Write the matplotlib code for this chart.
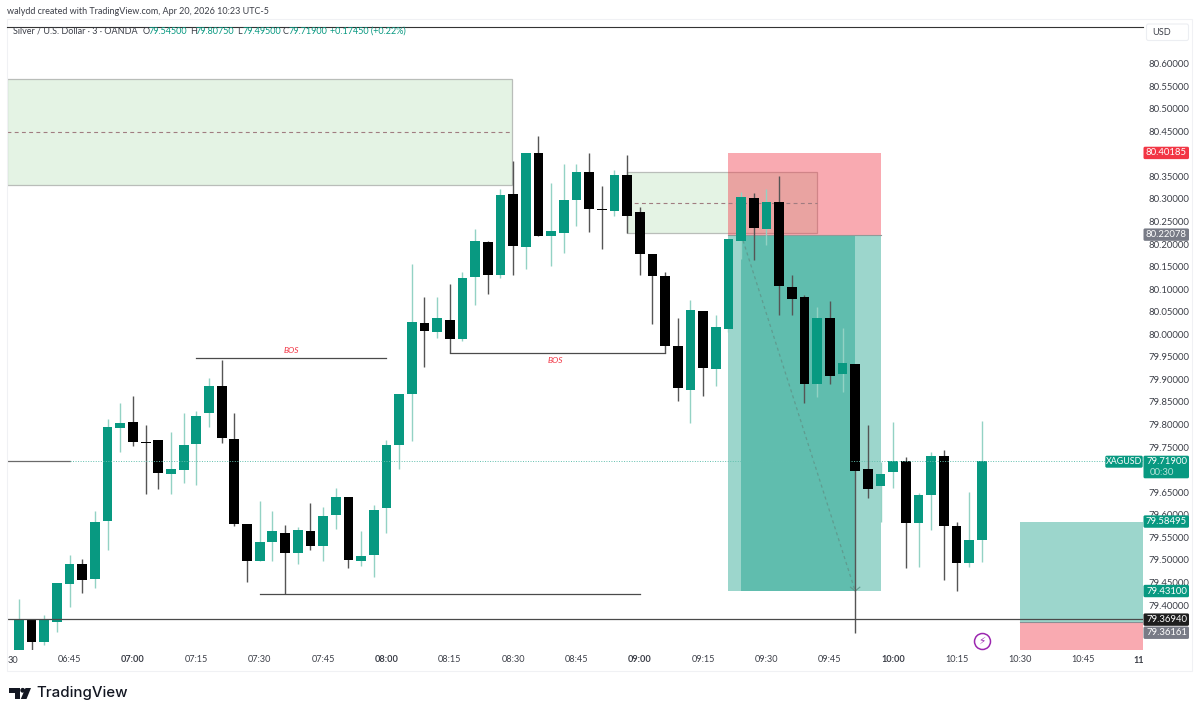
import matplotlib
matplotlib.use("Agg")
import matplotlib.pyplot as plt
from matplotlib.patches import FancyBboxPatch, Polygon, Circle, Rectangle
from matplotlib.transforms import IdentityTransform

plt.rcParams['font.family'] = ['Lato', 'DejaVu Sans']

W, H = 1200, 716

# 3 minute candles, first one is 06:33
opens = [79.300, 79.370, 79.317, 79.363, 79.447, 79.491, 79.458, 79.586, 79.793, 79.806,
         79.761, 79.766, 79.690, 79.700, 79.757, 79.825, 79.885, 79.767, 79.580, 79.498,
         79.540, 79.560, 79.515, 79.565, 79.531, 79.599, 79.639, 79.498, 79.511, 79.614,
         79.755, 79.868, 80.024, 80.004, 80.032, 79.990, 80.126, 80.205, 80.131, 80.310,
         80.194, 80.401, 80.218, 80.225, 80.298, 80.360, 80.277, 80.273, 80.353, 80.271,
         80.177, 80.128, 79.975, 79.877, 80.052, 79.924, 80.011, 80.207, 80.301, 80.233,
         80.292, 80.105, 80.082, 79.890, 80.036, 79.911, 79.933, 79.702, 79.664, 79.694,
         79.719, 79.582, 79.643, 79.731, 79.574, 79.492, 79.545]
highs = [79.413, 79.370, 79.378, 79.448, 79.511, 79.503, 79.609, 79.812, 79.848, 79.863,
         79.800, 79.766, 79.783, 79.825, 79.829, 79.902, 79.943, 79.825, 79.580, 79.631,
         79.608, 79.577, 79.572, 79.626, 79.618, 79.659, 79.639, 79.563, 79.622, 79.766,
         79.867, 80.155, 80.082, 80.083, 80.111, 80.138, 80.233, 80.207, 80.323, 80.383,
         80.401, 80.440, 80.335, 80.377, 80.377, 80.401, 80.329, 80.364, 80.398, 80.283,
         80.177, 80.139, 80.037, 80.075, 80.052, 80.043, 80.210, 80.316, 80.314, 80.321,
         80.351, 80.131, 80.086, 80.061, 80.073, 80.014, 79.933, 79.800, 79.718, 79.806,
         79.727, 79.649, 79.740, 79.744, 79.584, 79.651, 79.8075]
lows = [79.300, 79.300, 79.311, 79.340, 79.396, 79.427, 79.438, 79.523, 79.740, 79.752,
        79.645, 79.656, 79.647, 79.670, 79.667, 79.795, 79.758, 79.574, 79.452, 79.498,
        79.498, 79.424, 79.491, 79.523, 79.497, 79.569, 79.481, 79.487, 79.462, 79.559,
        79.701, 79.764, 79.928, 79.992, 79.958, 79.986, 80.065, 80.089, 80.125, 80.131,
        80.144, 80.218, 80.151, 80.179, 80.240, 80.227, 80.189, 80.262, 80.224, 80.131,
        80.023, 79.958, 79.853, 79.803, 79.863, 79.885, 80.006, 80.166, 80.165, 80.197,
        80.043, 80.042, 79.847, 79.862, 79.890, 79.873, 79.339, 79.637, 79.585, 79.660,
        79.482, 79.484, 79.566, 79.456, 79.430, 79.485, 79.495]
closes = [79.370, 79.317, 79.368, 79.448, 79.491, 79.455, 79.585, 79.794, 79.804, 79.761,
          79.758, 79.693, 79.701, 79.754, 79.819, 79.885, 79.769, 79.579, 79.498, 79.540,
          79.563, 79.515, 79.566, 79.531, 79.598, 79.639, 79.500, 79.508, 79.611, 79.755,
          79.867, 80.027, 80.007, 80.035, 79.989, 80.125, 80.207, 80.131, 80.309, 80.196,
          80.401, 80.218, 80.228, 80.298, 80.360, 80.277, 80.275, 80.353, 80.262, 80.177,
          80.129, 79.974, 79.880, 80.053, 79.925, 80.015, 80.210, 80.305, 80.236, 80.292,
          80.106, 80.079, 79.890, 80.036, 79.908, 79.936, 79.698, 79.656, 79.690, 79.719,
          79.582, 79.644, 79.731, 79.574, 79.492, 79.543, 79.719]

# minutes after 06:30
tick_minutes = [15, 30, 45, 60, 75, 90, 105, 120, 135, 150, 165, 180, 195, 210, 225, 240, 255]
tick_labels = ["06:45", "07:00", "07:15", "07:30", "07:45", "08:00", "08:15", "08:30", "08:45",
               "09:00", "09:15", "09:30", "09:45", "10:00", "10:15", "10:30", "10:45"]
bold_labels = ["07:00", "08:00", "09:00", "10:00"]
price_ticks = [79.40, 79.45, 79.50, 79.55, 79.60, 79.65, 79.75, 79.80, 79.85, 79.90,
               79.95, 80.00, 80.05, 80.10, 80.15, 80.20, 80.25, 80.30, 80.35, 80.45,
               80.50, 80.55, 80.60]

GREEN = "#089981"
GREEN_WICK = "#93d2c4"
BLACK_WICK = "#555555"
LINE = "#4a4a4a"
TEXT = "#3c3f48"
RED = "#f23645"
GREY_TAG = "#787b86"
LABEL_SIZE = 6.8

fig = plt.figure(figsize=(W / 100, H / 100), dpi=100, facecolor="white")
ax = fig.add_axes([7 / W, (H - 650) / H, 1136 / W, 623 / H])
ax.set_xlim(0.17, 269.15)
ax.set_ylim(79.3003, 80.6809)
for s in ax.spines.values():
    s.set_visible(False)


def px_text(x, y, s, **kw):
    kw.setdefault("va", "center")
    kw.setdefault("color", TEXT)
    return fig.text(x / W, 1 - y / H, s, **kw)


# supply zones
for x0, x1, lo, hi, mid in [(0.17, 119.8, 80.3307, 80.5657, 80.4493),
                            (147, 192, 80.2250, 80.3589, 80.2915)]:
    ax.add_patch(Rectangle((x0, lo), x1 - x0, hi - lo, fc="#4caf50", alpha=0.15, ec="none", zorder=1))
    ax.add_patch(Rectangle((x0, lo), x1 - x0, hi - lo, fc="none", ec="#b9bdb9", lw=0.9, zorder=1.1))
    ax.plot([x0, x1], [mid, mid], color="#a07c80", lw=0.8, ls=(0, (3.5, 3)), zorder=3.5)

# short position tool
ax.axhspan(80.22078, 80.40185, xmin=(171 - 0.17) / 268.98, xmax=(207 - 0.17) / 268.98,
           fc=RED, alpha=0.42, ec="none", zorder=1.2)
ax.axhspan(79.43100, 80.22078, xmin=(171 - 0.17) / 268.98, xmax=(207 - 0.17) / 268.98,
           fc=GREEN, alpha=0.4, ec="none", zorder=1.2)
ax.axhspan(79.43100, 80.22078, xmin=(174 - 0.17) / 268.98, xmax=(201 - 0.17) / 268.98,
           fc=GREEN, alpha=0.4, ec="none", zorder=1.3)
ax.plot([171, 207], [80.22078, 80.22078], color="#8f9a98", lw=0.8, zorder=1.4)
ax.plot([174, 201], [80.22078, 79.43100], color="#5f9c90", lw=0.9, ls=(0, (2.5, 2.5)), zorder=1.5)
ax.plot([199.9, 201, 202.1], [79.4395, 79.43100, 79.4395], color="#5f9c90", lw=0.8, zorder=1.5)

# second position tool, runs off the right edge
ax.add_patch(Rectangle((240, 79.36161), 30, 79.58495 - 79.36161, fc=GREEN, alpha=0.4, ec="none", zorder=1.2))
ax.add_patch(Rectangle((240, 79.3003), 30, 79.36161 - 79.3003, fc=RED, alpha=0.42, ec="none", zorder=1.2))
ax.plot([240, 270], [79.36161, 79.36161], color="#8a8f94", lw=0.8, zorder=1.4)

# candles
for i in range(len(opens)):
    m = (i + 1) * 3
    up = closes[i] >= opens[i]
    ax.vlines(m, lows[i], highs[i], color=GREEN_WICK if up else BLACK_WICK, lw=1.0, zorder=4)
    bottom = min(opens[i], closes[i])
    height = max(abs(closes[i] - opens[i]), 0.003)
    ax.bar(m, height, bottom=bottom, width=2.3, color=GREEN if up else "black", lw=0, zorder=5)

# horizontal levels
ax.plot([0.17, 269.15], [79.3694, 79.3694], color=LINE, lw=0.9, zorder=6)
ax.plot([0.17, 15], [79.719, 79.719], color="#6a6a6a", lw=0.9, zorder=6)
ax.plot([15, 269.15], [79.719, 79.719], color="#62bfae", lw=0.7, ls=(0, (1, 1.6)), zorder=6)
ax.plot([60, 150], [79.4244, 79.4244], color=LINE, lw=0.9, zorder=6)
ax.plot([45, 90], [79.9467, 79.9467], color=LINE, lw=0.9, zorder=6)
ax.plot([105, 156], [79.9585, 79.9585], color=LINE, lw=0.9, zorder=6)
ax.text(67.5, 79.9632, "BOS", color=RED, fontsize=6, style="italic", ha="center", va="center", zorder=6)
ax.text(130, 79.9425, "BOS", color=RED, fontsize=6, style="italic", ha="center", va="center", zorder=6)

# marker under the last candle
ax.plot([231], [79.3209], marker="o", ms=11.5, mfc="white", mec="#9c27b0", mew=1.1, zorder=7)
ax.text(231, 79.3209, "\u26a1", color="#9c27b0", fontsize=7.5, ha="center", va="center",
        family="DejaVu Sans", zorder=8)

# axes
ax.yaxis.tick_right()
ax.set_yticks(price_ticks)
ax.set_yticklabels([f"{p:.5f}" for p in price_ticks], fontsize=LABEL_SIZE, color=TEXT)
ax.set_xticks(tick_minutes)
ax.set_xticklabels(tick_labels, fontsize=6.6, color=TEXT)
ax.tick_params(axis="both", length=0)
ax.tick_params(axis="y", pad=4.3)
ax.tick_params(axis="x", pad=3.5)
for lab in ax.get_xticklabels():
    if lab.get_text() in bold_labels:
        lab.set_fontweight("bold")
px_text(13, 660.5, "30", ha="center", fontsize=6.6)
px_text(1139, 660.5, "11", ha="center", fontsize=6.6, fontweight="bold")

# top rule and outer frame
fig.add_artist(plt.Line2D([7 / W, 1143 / W], [1 - 27 / H, 1 - 27 / H], color="#333333", lw=0.8))
fig.add_artist(Rectangle((7 / W, 1 - 671 / H), 1185 / W, 652 / H, transform=fig.transFigure,
                         fc="none", ec="#f0f1f4", lw=0.8))


def tag(x0, x1, y0, y1, color):
    box = FancyBboxPatch((x0 + 1, H - y1 + 1), x1 - x0 - 2, y1 - y0 - 2, boxstyle="round,pad=1,rounding_size=1.5",
                         fc=color, ec="none", transform=IdentityTransform(), zorder=2)
    fig.add_artist(box)


def price_tag(price, s, color, shift=0.0):
    y = H - ax.transData.transform((0, price))[1] + shift
    tag(1143.5, 1189, y - 6.2, y + 6.2, color)
    px_text(1166.5, y, s, color="white", ha="center", fontsize=LABEL_SIZE)


price_tag(80.40185, "80.40185", RED)
price_tag(80.22078, "80.22078", GREY_TAG)
price_tag(79.58495, "79.58495", GREEN)
price_tag(79.43100, "79.43100", GREEN)
# the two lowest tags would collide, so they stack
price_tag(79.36940, "79.36940", "#1e1e1e", shift=0.8)
price_tag(79.36161, "79.36161", GREY_TAG, shift=10.4)

# last price tag with countdown
tag(1143.5, 1189, 455.7, 478.3, GREEN)
px_text(1166.5, 461.7, "79.71900", color="white", ha="center", fontsize=LABEL_SIZE)
px_text(1149.5, 472.5, "00:30", color="#b5e3d9", ha="left", fontsize=LABEL_SIZE)
tag(1105.3, 1142.7, 455.7, 467.7, GREEN)
px_text(1124, 461.7, "XAGUSD", color="white", ha="center", fontsize=6.4)

# currency button
fig.add_artist(FancyBboxPatch((1147, H - 40), 41, 15.5, boxstyle="round,pad=0.5,rounding_size=2",
                              fc="white", ec="#eceef2", lw=0.8, transform=IdentityTransform(), zorder=2))
px_text(1152.5, 32.3, "USD", fontsize=6.6)

# header texts
px_text(7, 11.5, "walydd created with TradingView.com, Apr 20, 2026 10:23 UTC-5", fontsize=6.5, ha="left")
px_text(13, 31.5, "Silver / U.S. Dollar \u00b7 3 \u00b7 OANDA", fontsize=6.5, ha="left")
for x, letter, val in [(143, "O", "79.54500"), (190, "H", "79.80750"),
                       (237, "L", "79.49500"), (283, "C", "79.71900")]:
    px_text(x, 31.5, letter, fontsize=6.5, ha="left")
    px_text(x + 6, 31.5, val, fontsize=6.5, ha="left", color=GREEN)
px_text(330, 31.5, "+0.17450 (+0.22%)", fontsize=6.5, ha="left", color=GREEN)

# footer logo
for pts in [[(8.5, 688), (20, 688), (20, 699), (14.5, 699), (14.5, 693), (8.5, 693)],
            [(31, 688), (26.5, 699), (20.8, 699), (25.5, 688)]]:
    fig.add_artist(Polygon([(x / W, 1 - y / H) for x, y in pts], closed=True, fc="#131722", ec="none",
                           transform=fig.transFigure))
fig.add_artist(Circle((22.7, H - 690.3), 2.4, fc="#131722", ec="none", transform=IdentityTransform()))
px_text(36, 693.5, "TradingView", fontsize=10.8, ha="left", color="#131722", fontweight="medium",
        family=["Inter", "DejaVu Sans"])

fig.savefig("out.png", dpi=100, facecolor="white")
